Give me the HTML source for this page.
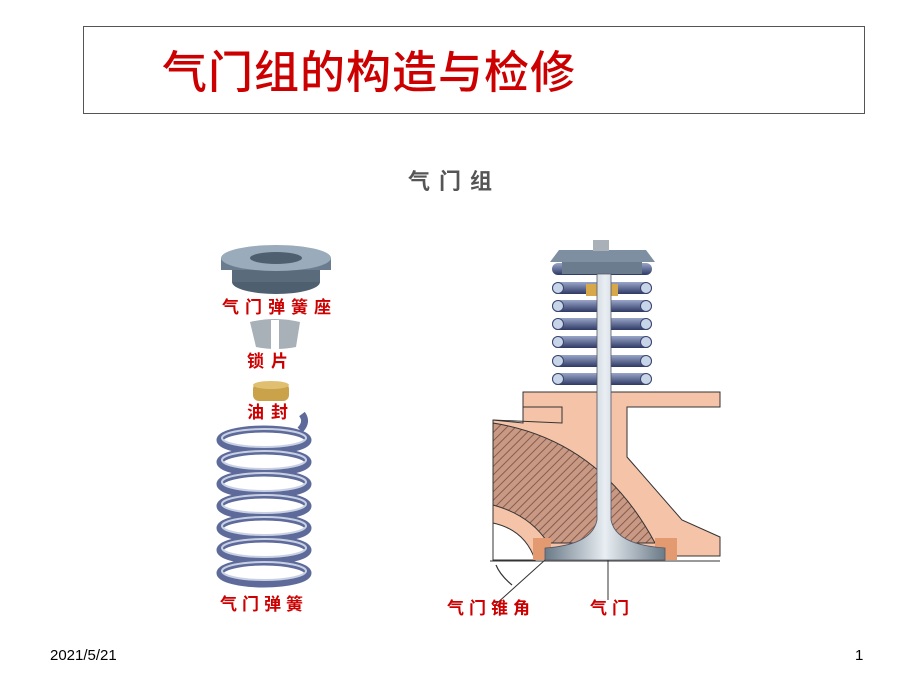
<!DOCTYPE html>
<html><head><meta charset="utf-8"><style>
body{margin:0;background:#fff;}
svg{display:block}
</style></head><body>
<svg width="920" height="690" viewBox="0 0 920 690" xmlns="http://www.w3.org/2000/svg" font-family="Liberation Sans, Noto Sans CJK SC, sans-serif">
<defs>
<pattern id="hatch" width="6" height="6" patternUnits="userSpaceOnUse" patternTransform="rotate(45)">
<rect width="6" height="6" fill="#c89a86"/><line x1="0" y1="0" x2="0" y2="6" stroke="#8a5a4a" stroke-width="2"/>
</pattern>
<linearGradient id="steel" x1="0" x2="1"><stop offset="0" stop-color="#6a7a88"/><stop offset="0.5" stop-color="#e8eef2"/><stop offset="1" stop-color="#6a7a88"/></linearGradient>
<linearGradient id="coil" x1="0" y1="0" x2="0" y2="1"><stop offset="0" stop-color="#9aa6c8"/><stop offset="1" stop-color="#2e3a64"/></linearGradient>
</defs>
<rect x="83.5" y="26.5" width="781" height="87" fill="none" stroke="#555" stroke-width="1"/>
<text x="162" y="88" font-size="45" fill="#cc0000" font-weight="500" letter-spacing="1" font-family="Noto Sans CJK SC, sans-serif">气门组的构造与检修</text>
<text x="408" y="189" font-size="22" fill="#555" font-weight="bold" letter-spacing="9" font-family="Noto Sans CJK SC, sans-serif">气门组</text>

<!-- left parts -->
<ellipse cx="276" cy="282" rx="44" ry="12" fill="#4e5f70"/>
<rect x="232" y="268" width="88" height="14" fill="#5a6b7c"/>
<rect x="221" y="258" width="110" height="12" fill="#6a7c8e"/>
<ellipse cx="276" cy="258" rx="55" ry="13" fill="#9aabbb"/>
<ellipse cx="276" cy="258" rx="26" ry="6" fill="#4e5f70"/>
<text x="222" y="313" font-size="17" fill="#c00" font-weight="bold" letter-spacing="6" font-family="Noto Sans CJK SC, sans-serif">气门弹簧座</text>
<path d="M250 322 Q275 316 300 322 L296 347 Q276 351 256 347 Z" fill="#a8b0b8"/>
<rect x="271" y="320" width="8" height="30" fill="#fff"/>
<text x="247" y="367" font-size="17" fill="#c00" font-weight="bold" letter-spacing="7" font-family="Noto Sans CJK SC, sans-serif">锁片</text>
<rect x="253" y="383" width="36" height="18" rx="6" fill="#c9a24a"/>
<ellipse cx="271" cy="385" rx="18" ry="4" fill="#e0c070"/>
<text x="247" y="418" font-size="17" fill="#c00" font-weight="bold" letter-spacing="7" font-family="Noto Sans CJK SC, sans-serif">油封</text>
<g fill="none" stroke="#5d6a9a" stroke-width="7">
<ellipse cx="264" cy="440" rx="44" ry="11"/>
<ellipse cx="264" cy="462" rx="44" ry="11"/>
<ellipse cx="264" cy="484" rx="44" ry="11"/>
<ellipse cx="264" cy="506" rx="44" ry="11"/>
<ellipse cx="264" cy="528" rx="44" ry="11"/>
<ellipse cx="264" cy="550" rx="44" ry="11"/>
<ellipse cx="264" cy="573" rx="44" ry="11"/>
<path d="M300 430 Q308 422 302 414"/>
</g>
<g fill="none" stroke="#c8d0e4" stroke-width="2">
<ellipse cx="264" cy="438" rx="42" ry="9"/>
<ellipse cx="264" cy="460" rx="42" ry="9"/>
<ellipse cx="264" cy="482" rx="42" ry="9"/>
<ellipse cx="264" cy="504" rx="42" ry="9"/>
<ellipse cx="264" cy="526" rx="42" ry="9"/>
<ellipse cx="264" cy="548" rx="42" ry="9"/>
<ellipse cx="264" cy="571" rx="42" ry="9"/>
</g>
<text x="220" y="610" font-size="17" fill="#c00" font-weight="bold" letter-spacing="5" font-family="Noto Sans CJK SC, sans-serif">气门弹簧</text>

<!-- right: cylinder head -->
<path d="M523 392 H720 V407 H627 V457 L682 520 L720 537 V556 H493 V420 L523 423 Z" fill="#f4c3a8" stroke="#333" stroke-width="1"/>
<path d="M523 407 H562 V423 L493 420" fill="none" stroke="#333" stroke-width="1"/>
<path d="M493 423 Q600 440 655 543 H548 Q530 515 493 505 Z" fill="url(#hatch)" stroke="#333" stroke-width="1"/>
<path d="M493 523 Q525 530 535 560 H493 Z" fill="#fff" stroke="#333" stroke-width="1"/>
<rect x="533" y="538" width="18" height="22" fill="#e39a70"/>
<rect x="655" y="538" width="22" height="22" fill="#e39a70"/>
<!-- spring coils -->
<g>
<rect x="552" y="263" width="100" height="12" rx="6" fill="url(#coil)"/>
<rect x="552" y="282" width="100" height="12" rx="6" fill="url(#coil)"/>
<rect x="552" y="300" width="100" height="12" rx="6" fill="url(#coil)"/>
<rect x="552" y="318" width="100" height="12" rx="6" fill="url(#coil)"/>
<rect x="552" y="336" width="100" height="12" rx="6" fill="url(#coil)"/>
<rect x="552" y="355" width="100" height="12" rx="6" fill="url(#coil)"/>
<rect x="552" y="373" width="100" height="12" rx="6" fill="url(#coil)"/>
</g>
<g fill="#c8d4e8" stroke="#3a4670" stroke-width="1">
<circle cx="558" cy="288" r="5.5"/><circle cx="646" cy="288" r="5.5"/>
<circle cx="558" cy="306" r="5.5"/><circle cx="646" cy="306" r="5.5"/>
<circle cx="558" cy="324" r="5.5"/><circle cx="646" cy="324" r="5.5"/>
<circle cx="558" cy="342" r="5.5"/><circle cx="646" cy="342" r="5.5"/>
<circle cx="558" cy="361" r="5.5"/><circle cx="646" cy="361" r="5.5"/>
<circle cx="558" cy="379" r="5.5"/><circle cx="646" cy="379" r="5.5"/>
</g>
<rect x="562" y="258" width="80" height="16" fill="#6a7c8e"/>
<path d="M550 262 L655 262 L646 250 L559 250 Z" fill="#7d8fa0"/>
<rect x="593" y="240" width="16" height="11" fill="#aab0b8"/>
<rect x="586" y="284" width="32" height="12" fill="#d6a84a"/>
<!-- valve -->
<path d="M597 274 H611 V520 Q616 545 665 548 V560 H545 V548 Q592 545 597 520 Z" fill="url(#steel)" stroke="#556" stroke-width="0.8"/>
<line x1="490" y1="561" x2="720" y2="561" stroke="#333" stroke-width="1"/>
<line x1="545" y1="560" x2="495" y2="605" stroke="#333" stroke-width="1"/>
<line x1="608" y1="560" x2="608" y2="600" stroke="#333" stroke-width="1"/>
<path d="M496 565 Q500 575 512 585" fill="none" stroke="#333" stroke-width="1.2"/>
<text x="447" y="614" font-size="17" fill="#c00" font-weight="bold" letter-spacing="5" font-family="Noto Sans CJK SC, sans-serif">气门锥角</text>
<text x="590" y="614" font-size="17" fill="#c00" font-weight="bold" letter-spacing="5" font-family="Noto Sans CJK SC, sans-serif">气门</text>

<text x="50" y="660" font-size="15" fill="#000">2021/5/21</text>
<text x="855" y="660" font-size="15" fill="#000">1</text>
</svg>
</body></html>
